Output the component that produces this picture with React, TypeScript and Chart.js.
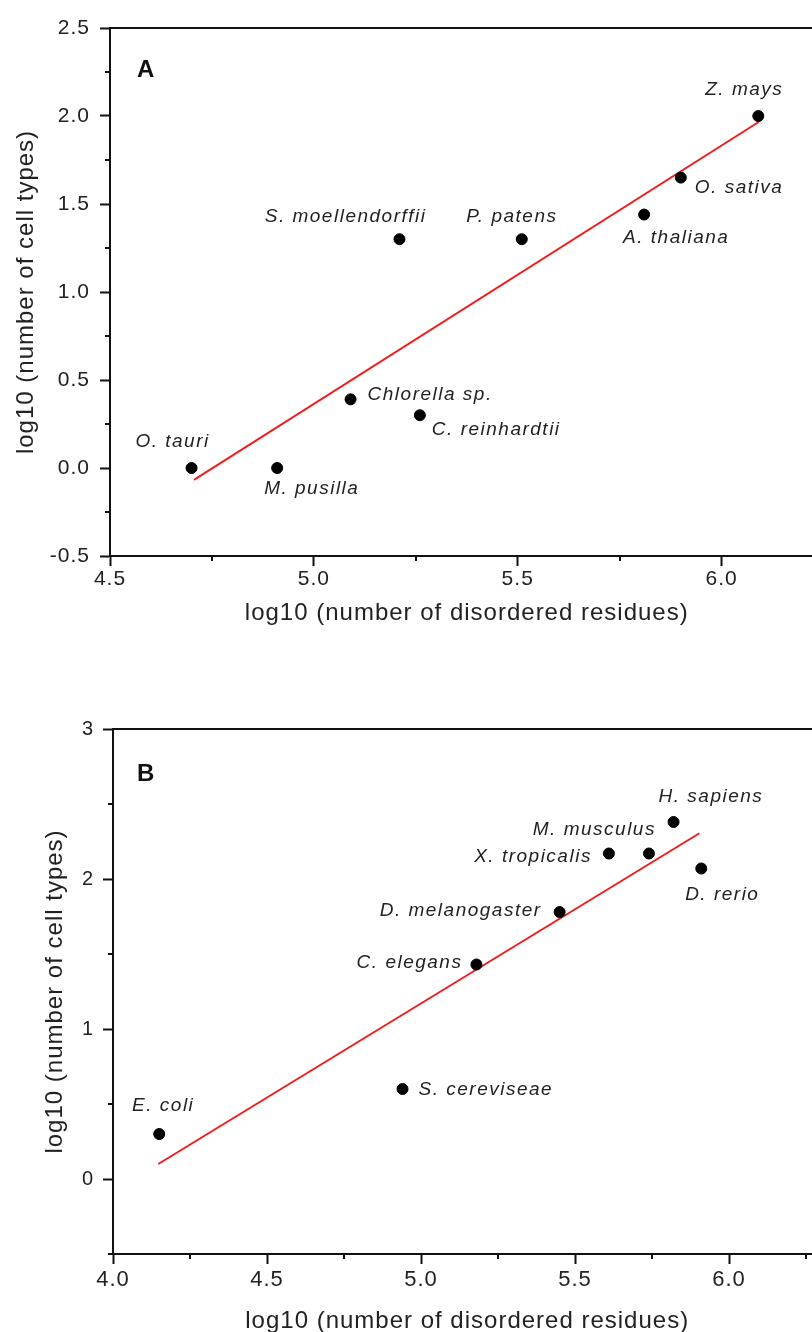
import { useEffect, useRef } from "react";
import { Chart, registerables } from "chart.js";

Chart.register(...registerables);

const FONT = "'Liberation Sans', Arial, Helvetica, sans-serif";

// ---------- Panel A data ----------
const A_NAMES = ["O. tauri", "M. pusilla", "Chlorella sp.", "S. moellendorffii", "C. reinhardtii", "P. patens", "A. thaliana", "O. sativa", "Z. mays"];
const A_X = [4.70, 4.91, 5.09, 5.21, 5.26, 5.51, 5.81, 5.90, 6.09];
const A_Y = [0.00, 0.00, 0.39, 1.30, 0.30, 1.30, 1.44, 1.65, 2.00];
const A_FIT_X = [4.706, 6.091];
const A_FIT_Y = [-0.068, 1.966];
const A_X_TICKS = [4.5, 5.0, 5.5, 6.0];
const A_Y_TICKS = [-0.5, 0.0, 0.5, 1.0, 1.5, 2.0, 2.5];

// ---------- Panel B data ----------
const B_NAMES = ["E. coli", "S. cereviseae", "C. elegans", "D. melanogaster", "X. tropicalis", "M. musculus", "H. sapiens", "D. rerio"];
const B_X = [4.15, 4.94, 5.18, 5.45, 5.61, 5.74, 5.82, 5.91];
const B_Y = [0.30, 0.60, 1.43, 1.78, 2.17, 2.17, 2.38, 2.07];
const B_FIT_X = [4.147, 5.904];
const B_FIT_Y = [0.10, 2.305];
const B_X_TICKS = [4.0, 4.5, 5.0, 5.5, 6.0];
const B_Y_TICKS = [0, 1, 2, 3];

const X_TITLE = "log10 (number of disordered residues)";
const Y_TITLE = "log10 (number of cell types)";

// label placement (style): [dx, dy, align]
const A_LABEL_POS: [number, number, CanvasTextAlign][] = [
  [-19, -26, "center"],
  [-13, 21, "left"],
  [17, -5, "left"],
  [27, -22, "right"],
  [12, 15, "left"],
  [-10, -22, "center"],
  [-21, 23, "left"],
  [14, 10, "left"],
  [-14, -26, "center"],
];
const B_LABEL_POS: [number, number, CanvasTextAlign][] = [
  [4, -28, "center"],
  [16, 1, "left"],
  [-14, -2, "right"],
  [-18, -1, "right"],
  [-17, 3, "right"],
  [7, -24, "right"],
  [-15, -25, "left"],
  [21, 26, "center"],
];

type Panel = {
  letter: string;
  names: string[];
  xs: number[];
  ys: number[];
  fitX: number[];
  fitY: number[];
  xMajor: number[];
  yMajor: number[];
  xMin: number; xMax: number; xStep: number;
  yMin: number; yMax: number; yStep: number;
  xDec: number; yDec: number;
  labelPos: [number, number, CanvasTextAlign][];
  top: number; width: number; height: number;
  padTop: number; padRight: number;
  yAxisW: number; xAxisH: number;
  xTickSize: number; yTickSize: number;
  xTickPad: number; yTickPad: number;
  xTitlePadB: number; yTitlePadT: number;
  labelSize: number;
  letterDx: number; letterDy: number;
};

const PANEL_A: Panel = {
  letter: "A", names: A_NAMES, xs: A_X, ys: A_Y, fitX: A_FIT_X, fitY: A_FIT_Y,
  xMajor: A_X_TICKS, yMajor: A_Y_TICKS,
  xMin: 4.5, xMax: 6.25, xStep: 0.25, yMin: -0.5, yMax: 2.5, yStep: 0.25,
  xDec: 1, yDec: 1, labelPos: A_LABEL_POS,
  top: 0, width: 830, height: 650, padTop: 28, padRight: 6,
  yAxisW: 110, xAxisH: 94,
  xTickSize: 21, yTickSize: 21, xTickPad: 1, yTickPad: 10,
  xTitlePadB: 22, yTitlePadT: 12,
  labelSize: 19, letterDx: 27, letterDy: 49,
};

const PANEL_B: Panel = {
  letter: "B", names: B_NAMES, xs: B_X, ys: B_Y, fitX: B_FIT_X, fitY: B_FIT_Y,
  xMajor: B_X_TICKS, yMajor: B_Y_TICKS,
  xMin: 4.0, xMax: 6.3, xStep: 0.25, yMin: -0.5, yMax: 3, yStep: 0.5,
  xDec: 1, yDec: 0, labelPos: B_LABEL_POS,
  top: 680, width: 830, height: 680, padTop: 49, padRight: 8.6,
  yAxisW: 113, xAxisH: 106,
  xTickSize: 22, yTickSize: 20, xTickPad: 3, yTickPad: 9,
  xTitlePadB: 24, yTitlePadT: 41,
  labelSize: 19, letterDx: 24, letterDy: 52,
};

const isIn = (arr: number[], v: number) => arr.some((m) => Math.abs(m - v) < 1e-6);

function decoPlugin(p: Panel) {
  return {
    id: "deco" + p.letter,
    beforeDraw(chart: any) {
      chart.ctx.letterSpacing = "1px";
    },
    afterDraw(chart: any) {
      const { ctx, chartArea, scales } = chart;
      const xs = scales.x;
      const ys = scales.y;
      ctx.save();
      ctx.strokeStyle = "#111";
      ctx.lineWidth = 2;
      // top frame line
      const yTop = ys.getPixelForValue(ys.max);
      ctx.beginPath();
      ctx.moveTo(chartArea.left - 1, yTop);
      ctx.lineTo(chartArea.right, yTop);
      ctx.stroke();
      // minor ticks
      ctx.beginPath();
      xs.ticks.forEach((t: any) => {
        if (isIn(p.xMajor, t.value)) return;
        const px = Math.round(xs.getPixelForValue(t.value));
        ctx.moveTo(px, chartArea.bottom);
        ctx.lineTo(px, chartArea.bottom + 5);
      });
      ys.ticks.forEach((t: any) => {
        if (isIn(p.yMajor, t.value)) return;
        const py = Math.round(ys.getPixelForValue(t.value));
        ctx.moveTo(chartArea.left, py);
        ctx.lineTo(chartArea.left - 5, py);
      });
      ctx.stroke();
      // point labels
      ctx.fillStyle = "#222";
      ctx.font = `italic ${p.labelSize}px ${FONT}`;
      ctx.letterSpacing = "1.5px";
      ctx.textBaseline = "middle";
      const meta = chart.getDatasetMeta(0);
      meta.data.forEach((pt: any, i: number) => {
        const [dx, dy, align] = p.labelPos[i];
        ctx.textAlign = align;
        ctx.fillText(p.names[i], pt.x + dx, pt.y + dy);
      });
      // panel letter
      ctx.letterSpacing = "0px";
      ctx.fillStyle = "#111";
      ctx.font = `bold 24px ${FONT}`;
      ctx.textAlign = "left";
      ctx.textBaseline = "alphabetic";
      ctx.fillText(p.letter, chartArea.left + p.letterDx, chartArea.top + p.letterDy);
      ctx.restore();
    },
  };
}

function makeConfig(p: Panel): any {
  const points = p.xs.map((x, i) => ({ x, y: p.ys[i] }));
  const fit = p.fitX.map((x, i) => ({ x, y: p.fitY[i] }));
  const tickColor = (major: number[]) => (c: any) =>
    c.tick && isIn(major, c.tick.value) ? "#111" : "rgba(0,0,0,0)";
  return {
    type: "scatter",
    data: {
      datasets: [
        {
          data: points,
          order: 0,
          pointRadius: 5.5,
          pointHoverRadius: 5.5,
          backgroundColor: "#000",
          borderColor: "#000",
          borderWidth: 1,
          pointStyle: "circle",
        },
        {
          data: fit,
          order: 1,
          showLine: true,
          borderColor: "#f01c1c",
          borderWidth: 2,
          pointRadius: 0,
          pointHoverRadius: 0,
          fill: false,
        },
      ],
    },
    options: {
      animation: false,
      responsive: false,
      events: [],
      layout: { padding: { top: p.padTop, right: p.padRight, left: 0, bottom: 0 } },
      plugins: { legend: { display: false }, tooltip: { enabled: false } },
      scales: {
        x: {
          type: "linear",
          position: "bottom",
          min: p.xMin,
          max: p.xMax,
          afterFit: (s: any) => { s.height = p.xAxisH; },
          ticks: {
            stepSize: p.xStep,
            autoSkip: false,
            includeBounds: false,
            maxRotation: 0,
            minRotation: 0,
            padding: p.xTickPad,
            color: "#222",
            font: { size: p.xTickSize, family: FONT },
            callback: (v: number) => (isIn(p.xMajor, v) ? Number(v).toFixed(p.xDec) : ""),
          },
          grid: {
            display: true,
            drawOnChartArea: false,
            drawTicks: true,
            tickLength: 10,
            tickWidth: 2,
            tickColor: tickColor(p.xMajor),
          },
          border: { display: true, color: "#111", width: 2 },
          title: {
            display: true,
            text: X_TITLE,
            color: "#222",
            font: { size: 24, family: FONT },
            padding: { top: 0, bottom: p.xTitlePadB },
          },
        },
        y: {
          type: "linear",
          position: "left",
          min: p.yMin,
          max: p.yMax,
          afterFit: (s: any) => { s.width = p.yAxisW; },
          ticks: {
            stepSize: p.yStep,
            autoSkip: false,
            includeBounds: false,
            padding: p.yTickPad,
            color: "#222",
            font: { size: p.yTickSize, family: FONT },
            callback: (v: number) => (isIn(p.yMajor, v) ? Number(v).toFixed(p.yDec) : ""),
          },
          grid: {
            display: true,
            drawOnChartArea: false,
            drawTicks: true,
            tickLength: 10,
            tickWidth: 2,
            tickColor: tickColor(p.yMajor),
          },
          border: { display: true, color: "#111", width: 2 },
          title: {
            display: true,
            text: Y_TITLE,
            color: "#222",
            font: { size: 24, family: FONT },
            padding: { top: p.yTitlePadT, bottom: 0 },
          },
        },
      },
    },
    plugins: [decoPlugin(p)],
  };
}

function PanelChart({ p }: { p: Panel }) {
  const ref = useRef<HTMLCanvasElement | null>(null);
  useEffect(() => {
    if (!ref.current) return;
    const chart = new Chart(ref.current, makeConfig(p));
    return () => chart.destroy();
  }, [p]);
  return (
    <canvas
      ref={ref}
      width={p.width}
      height={p.height}
      style={{ position: "absolute", left: 0, top: p.top, width: p.width, height: p.height }}
    />
  );
}

export default function App() {
  return (
    <div
      style={{
        position: "absolute",
        left: 0,
        top: 0,
        width: 812,
        height: 1332,
        overflow: "hidden",
        background: "#fff",
      }}
    >
      <PanelChart p={PANEL_A} />
      <PanelChart p={PANEL_B} />
    </div>
  );
}
